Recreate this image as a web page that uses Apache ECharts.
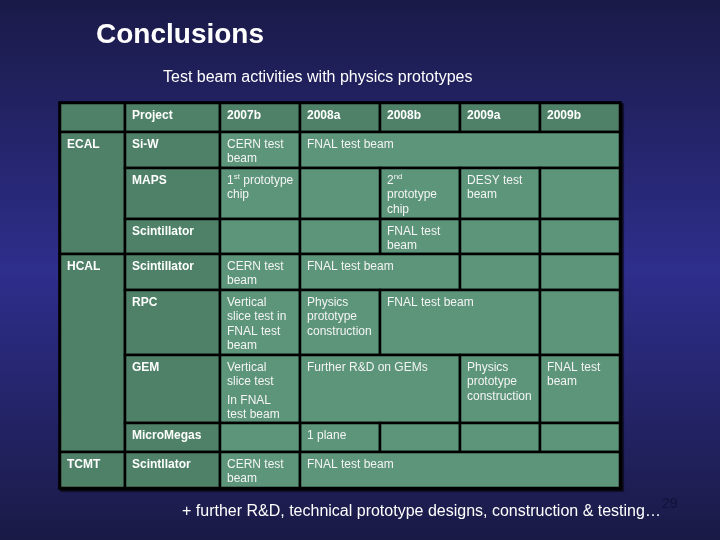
<!DOCTYPE html>
<html>
<head>
<meta charset="utf-8">
<script src="https://cdn.jsdelivr.net/npm/echarts@6/dist/echarts.min.js"></script>
<style>html,body{margin:0;padding:0;background:#1c1c4e}#main{width:720px;height:540px}</style>
</head>
<body>
<div id="main"></div>
<script>
// ---------- data ----------
const periods = ['2007b', '2008a', '2008b', '2009a', '2009b'];
const headerLabel = 'Project';
const detectors = ['ECAL', 'HCAL', 'TCMT'];
const detectorRowCounts = [3, 4, 1];
const projects = ['Si-W', 'MAPS', 'Scintillator', 'Scintillator', 'RPC', 'GEM', 'MicroMegas', 'Scintllator'];
// [project row, first period, last period, text]
const activities = [
  [0, 0, 0, 'CERN test\nbeam'],
  [0, 1, 4, 'FNAL test beam'],
  [1, 0, 0, '1{sup|st} prototype\nchip'],
  [1, 2, 2, '2{sup|nd}\nprototype\nchip'],
  [1, 3, 3, 'DESY test\nbeam'],
  [2, 2, 2, 'FNAL test\nbeam'],
  [3, 0, 0, 'CERN test\nbeam'],
  [3, 1, 2, 'FNAL test beam'],
  [4, 0, 0, 'Vertical\nslice test in\nFNAL test\nbeam'],
  [4, 1, 1, 'Physics\nprototype\nconstruction'],
  [4, 2, 3, 'FNAL test beam'],
  [5, 0, 0, 'Vertical\nslice test\n{gap|In FNAL}\ntest beam'],
  [5, 1, 2, 'Further R&D on GEMs'],
  [5, 3, 3, 'Physics\nprototype\nconstruction'],
  [5, 4, 4, 'FNAL test\nbeam'],
  [6, 1, 1, '1 plane'],
  [7, 0, 0, 'CERN test\nbeam'],
  [7, 1, 4, 'FNAL test beam']
];
const titleText = 'Conclusions';
const subtitleText = 'Test beam activities with physics prototypes';
const footerText = '+ further R&D, technical prototype designs, construction & testing…';
const pageNumber = '29';

// ---------- layout / style ----------
const LAYOUT = {
  rowHeights: [29, 36, 51, 35, 36, 65, 68, 29, 36], // header + project rows
  labelSplit: 0.8125,   // detector / project column split (in period units)
  labelCols: 2          // label columns occupy two period widths
};
const COLORS = { label: '#4f8168', data: '#5c957a', line: '#000000', text: '#ffffff' };
const FONT = "'Liberation Sans', Arial, Helvetica, sans-serif";

// cumulative row boundaries
const rowEdges = [0];
LAYOUT.rowHeights.forEach(h => rowEdges.push(rowEdges[rowEdges.length - 1] + h));
const totalH = rowEdges[rowEdges.length - 1];
const totalW = LAYOUT.labelCols + periods.length;

// build cells
const cells = [];
function addCell(x0, x1, r0, r1, text, kind) {
  cells.push({ value: [x0, x1, rowEdges[r0], rowEdges[r1 + 1]], text: text, kind: kind });
}
addCell(0, LAYOUT.labelSplit, 0, 0, '', 'label');
addCell(LAYOUT.labelSplit, LAYOUT.labelCols, 0, 0, headerLabel, 'label');
periods.forEach((p, i) => addCell(LAYOUT.labelCols + i, LAYOUT.labelCols + i + 1, 0, 0, p, 'label'));
let r = 1;
detectors.forEach((d, i) => {
  addCell(0, LAYOUT.labelSplit, r, r + detectorRowCounts[i] - 1, d, 'label');
  r += detectorRowCounts[i];
});
projects.forEach((p, i) => {
  const row = i + 1;
  addCell(LAYOUT.labelSplit, LAYOUT.labelCols, row, row, p, 'label');
  const covered = new Array(periods.length).fill(false);
  activities.filter(a => a[0] === i).forEach(a => {
    addCell(LAYOUT.labelCols + a[1], LAYOUT.labelCols + a[2] + 1, row, row, a[3], 'data');
    for (let k = a[1]; k <= a[2]; k++) covered[k] = true;
  });
  covered.forEach((c, k) => { if (!c) addCell(LAYOUT.labelCols + k, LAYOUT.labelCols + k + 1, row, row, '', 'data'); });
});

const chart = echarts.init(document.getElementById('main'), null, { renderer: 'canvas' });
const option = {
  animation: false,
  backgroundColor: {
    type: 'linear', x: 0, y: 0, x2: 0, y2: 1,
    colorStops: [
      { offset: 0, color: '#1a1a48' },
      { offset: 0.5, color: '#2e2e8c' },
      { offset: 1, color: '#1a1a46' }
    ]
  },
  title: [
    { text: titleText, left: 96, top: 21, padding: 0,
      textStyle: { color: '#ffffff', fontFamily: FONT, fontSize: 28, fontWeight: 'bold' } },
    { text: subtitleText, left: 163, top: 70, padding: 0,
      textStyle: { color: '#ffffff', fontFamily: FONT, fontSize: 16, fontWeight: 'normal' } },
    { text: footerText, left: 182, top: 504, padding: 0,
      textStyle: { color: '#ffffff', fontFamily: FONT, fontSize: 16, fontWeight: 'normal' } },
    { text: pageNumber, left: 662, top: 497, padding: 0,
      textStyle: { color: '#12123a', fontFamily: FONT, fontSize: 14, fontWeight: 'normal' } }
  ],
  grid: { left: 60, right: 100, top: 103, bottom: 52 },
  xAxis: { type: 'value', min: 0, max: totalW, show: false },
  yAxis: { type: 'value', min: 0, max: totalH, inverse: true, show: false },
  series: [
    {
      type: 'custom',
      coordinateSystem: 'cartesian2d',
      data: [[0, totalW, 0, totalH]],
      encode: { x: [0, 1], y: [2, 3] },
      z: 1,
      renderItem: function (params, api) {
        const p0 = api.coord([api.value(0), api.value(2)]);
        const p1 = api.coord([api.value(1), api.value(3)]);
        return {
          type: 'rect',
          shape: { x: p0[0], y: p0[1], width: p1[0] - p0[0], height: p1[1] - p0[1] },
          style: { fill: COLORS.data, stroke: '#000', lineWidth: 3.5,
            shadowColor: 'rgba(0,0,0,0.7)', shadowOffsetX: 2, shadowOffsetY: 2, shadowBlur: 1 }
        };
      }
    },
    {
      type: 'custom',
      coordinateSystem: 'cartesian2d',
      data: cells.map(c => c.value),
      encode: { x: [0, 1], y: [2, 3] },
      z: 2,
      renderItem: function (params, api) {
        const cell = cells[params.dataIndex];
        const p0 = api.coord([api.value(0), api.value(2)]);
        const p1 = api.coord([api.value(1), api.value(3)]);
        const isLabel = cell.kind === 'label';
        return {
          type: 'group',
          children: [
            {
              type: 'rect',
              shape: { x: p0[0], y: p0[1], width: p1[0] - p0[0], height: p1[1] - p0[1] },
              style: { fill: isLabel ? COLORS.label : COLORS.data, stroke: COLORS.line, lineWidth: 2.5 }
            },
            {
              type: 'text',
              x: p0[0] + 7, y: p0[1] + 5,
              style: {
                text: cell.text,
                fill: isLabel ? COLORS.text : '#f4f4f4',
                font: (isLabel ? 'bold ' : '') + '12px ' + FONT,
                lineHeight: 14.5,
                verticalAlign: 'top',
                align: 'left',
                rich: {
                  sup: { fontSize: 8, fontFamily: FONT, fill: '#f4f4f4', verticalAlign: 'top', lineHeight: 14.5, padding: [0, 0, 4, 0] },
                  gap: { fontSize: 12, fontFamily: FONT, fill: '#f4f4f4', lineHeight: 18, verticalAlign: 'bottom' }
                }
              }
            }
          ]
        };
      }
    }
  ]
};
chart.setOption(option);
</script>
</body>
</html>
